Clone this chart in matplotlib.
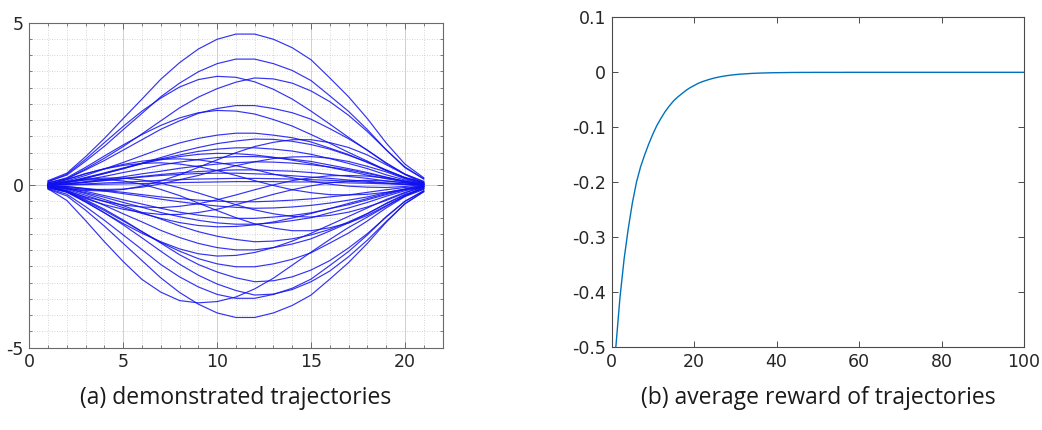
import matplotlib
matplotlib.use("Agg")
import matplotlib.pyplot as plt
from matplotlib.ticker import MultipleLocator

# ---- panel (a): demonstrated trajectories, one value per time step ----
steps = list(range(1, 22))

trajectories_up = [
    [0.14, 0.37, 0.88, 1.44, 2.05, 2.65, 3.26, 3.77, 4.19, 4.49, 4.65, 4.65, 4.49, 4.23, 3.86, 3.30, 2.72, 2.05, 1.30, 0.65, 0.23],
    [0.12, 0.31, 0.74, 1.20, 1.71, 2.21, 2.72, 3.14, 3.49, 3.74, 3.88, 3.88, 3.74, 3.53, 3.22, 2.75, 2.27, 1.71, 1.09, 0.54, 0.19],
    [0.10, 0.34, 0.80, 1.31, 1.81, 2.28, 2.68, 3.02, 3.25, 3.35, 3.32, 3.18, 2.95, 2.65, 2.28, 1.88, 1.47, 1.07, 0.67, 0.34, 0.10],
    [0.07, 0.20, 0.50, 0.83, 1.19, 1.58, 1.98, 2.38, 2.71, 2.97, 3.17, 3.30, 3.27, 3.14, 2.90, 2.57, 2.15, 1.65, 1.09, 0.56, 0.20],
    [0.07, 0.20, 0.47, 0.76, 1.08, 1.40, 1.72, 1.98, 2.21, 2.36, 2.45, 2.45, 2.36, 2.23, 2.03, 1.74, 1.43, 1.08, 0.69, 0.34, 0.12],
    [0.07, 0.23, 0.55, 0.90, 1.24, 1.56, 1.84, 2.07, 2.23, 2.30, 2.28, 2.19, 2.02, 1.82, 1.56, 1.29, 1.01, 0.74, 0.46, 0.23, 0.07],
    [0.05, 0.13, 0.30, 0.50, 0.70, 0.91, 1.12, 1.30, 1.44, 1.54, 1.60, 1.60, 1.54, 1.46, 1.33, 1.14, 0.94, 0.70, 0.45, 0.22, 0.08],
    [0.03, 0.09, 0.21, 0.36, 0.51, 0.68, 0.85, 1.02, 1.16, 1.28, 1.36, 1.42, 1.41, 1.35, 1.25, 1.11, 0.92, 0.71, 0.47, 0.24, 0.09],
    [0.03, 0.09, 0.22, 0.36, 0.51, 0.66, 0.81, 0.93, 1.04, 1.11, 1.15, 1.15, 1.11, 1.05, 0.95, 0.82, 0.67, 0.51, 0.32, 0.16, 0.06],
    [0.03, 0.10, 0.24, 0.38, 0.53, 0.67, 0.78, 0.88, 0.95, 0.98, 0.97, 0.93, 0.86, 0.77, 0.67, 0.55, 0.43, 0.31, 0.20, 0.10, 0.03],
    [0.03, 0.07, 0.17, 0.27, 0.39, 0.50, 0.62, 0.71, 0.79, 0.85, 0.88, 0.88, 0.85, 0.80, 0.73, 0.62, 0.51, 0.39, 0.25, 0.12, 0.04],
    [0.01, 0.04, 0.11, 0.18, 0.26, 0.35, 0.43, 0.52, 0.59, 0.65, 0.69, 0.72, 0.71, 0.68, 0.63, 0.56, 0.47, 0.36, 0.24, 0.12, 0.04],
    [0.01, 0.04, 0.09, 0.15, 0.21, 0.27, 0.33, 0.38, 0.42, 0.45, 0.47, 0.47, 0.45, 0.43, 0.39, 0.33, 0.27, 0.21, 0.13, 0.07, 0.02],
    [0.01, 0.04, 0.09, 0.14, 0.20, 0.25, 0.30, 0.33, 0.36, 0.37, 0.37, 0.35, 0.33, 0.29, 0.25, 0.21, 0.16, 0.12, 0.07, 0.04, 0.01],
    [0.01, 0.02, 0.04, 0.07, 0.09, 0.12, 0.15, 0.17, 0.19, 0.20, 0.21, 0.21, 0.20, 0.19, 0.17, 0.15, 0.12, 0.09, 0.06, 0.03, 0.01],
    [0.00, 0.01, 0.02, 0.03, 0.04, 0.05, 0.07, 0.08, 0.09, 0.10, 0.11, 0.11, 0.11, 0.10, 0.10, 0.09, 0.07, 0.06, 0.04, 0.02, 0.01],
]

trajectories_down = [
    [-0.02, -0.04, -0.10, -0.16, -0.22, -0.29, -0.36, -0.41, -0.46, -0.49, -0.51, -0.51, -0.49, -0.46, -0.42, -0.36, -0.30, -0.22, -0.14, -0.07, -0.03],
    [-0.01, -0.04, -0.11, -0.18, -0.26, -0.34, -0.43, -0.51, -0.58, -0.64, -0.68, -0.71, -0.70, -0.67, -0.62, -0.55, -0.46, -0.36, -0.23, -0.12, -0.04],
    [-0.03, -0.08, -0.19, -0.32, -0.45, -0.58, -0.71, -0.83, -0.92, -0.98, -1.02, -1.02, -0.98, -0.93, -0.85, -0.72, -0.60, -0.45, -0.29, -0.14, -0.05],
    [-0.04, -0.10, -0.23, -0.37, -0.53, -0.68, -0.84, -0.97, -1.08, -1.16, -1.20, -1.20, -1.16, -1.09, -1.00, -0.85, -0.70, -0.53, -0.34, -0.17, -0.06],
    [-0.04, -0.13, -0.31, -0.50, -0.69, -0.87, -1.02, -1.15, -1.24, -1.28, -1.27, -1.22, -1.13, -1.01, -0.87, -0.72, -0.56, -0.41, -0.26, -0.13, -0.04],
    [-0.03, -0.10, -0.26, -0.44, -0.63, -0.84, -1.04, -1.25, -1.43, -1.57, -1.67, -1.74, -1.72, -1.65, -1.53, -1.36, -1.13, -0.87, -0.57, -0.30, -0.10],
    [-0.06, -0.16, -0.38, -0.62, -0.88, -1.13, -1.39, -1.61, -1.79, -1.92, -1.99, -1.99, -1.92, -1.81, -1.65, -1.41, -1.16, -0.88, -0.56, -0.28, -0.10],
    [-0.07, -0.22, -0.52, -0.85, -1.18, -1.48, -1.74, -1.96, -2.11, -2.18, -2.16, -2.07, -1.92, -1.72, -1.48, -1.22, -0.96, -0.70, -0.44, -0.22, -0.07],
    [-0.08, -0.20, -0.48, -0.78, -1.10, -1.43, -1.76, -2.03, -2.26, -2.42, -2.51, -2.51, -2.42, -2.28, -2.08, -1.78, -1.47, -1.10, -0.70, -0.35, -0.13],
    [-0.06, -0.18, -0.45, -0.74, -1.07, -1.43, -1.78, -2.14, -2.44, -2.67, -2.85, -2.97, -2.94, -2.82, -2.61, -2.32, -1.93, -1.49, -0.98, -0.50, -0.18],
    [-0.07, -0.20, -0.51, -0.85, -1.22, -1.62, -2.03, -2.43, -2.77, -3.04, -3.24, -3.38, -3.35, -3.21, -2.97, -2.64, -2.20, -1.69, -1.12, -0.57, -0.20],
    [-0.10, -0.28, -0.66, -1.08, -1.53, -1.98, -2.44, -2.82, -3.13, -3.36, -3.48, -3.48, -3.36, -3.17, -2.89, -2.47, -2.04, -1.53, -0.97, -0.49, -0.17],
    [-0.11, -0.47, -1.09, -1.74, -2.35, -2.90, -3.29, -3.55, -3.62, -3.58, -3.44, -3.19, -2.86, -2.46, -2.06, -1.67, -1.30, -0.98, -0.65, -0.33, -0.11],
    [-0.12, -0.33, -0.77, -1.26, -1.79, -2.32, -2.85, -3.30, -3.66, -3.93, -4.07, -4.07, -3.93, -3.70, -3.38, -2.89, -2.38, -1.79, -1.14, -0.57, -0.20],
]

trajectories_cross = [
    [0.01, 0.18, 0.36, 0.50, 0.61, 0.67, 0.69, 0.65, 0.57, 0.45, 0.30, 0.14, -0.01, -0.14, -0.23, -0.29, -0.30, -0.28, -0.22, -0.12, 0.02],
    [-0.01, -0.18, -0.36, -0.50, -0.61, -0.67, -0.69, -0.65, -0.57, -0.45, -0.30, -0.14, 0.01, 0.14, 0.23, 0.29, 0.30, 0.28, 0.22, 0.12, -0.02],
    [-0.02, 0.11, 0.19, 0.22, 0.22, 0.16, 0.06, -0.08, -0.24, -0.42, -0.60, -0.76, -0.88, -0.96, -0.98, -0.93, -0.83, -0.67, -0.47, -0.24, -0.03],
    [-0.02, -0.21, -0.41, -0.60, -0.74, -0.84, -0.90, -0.90, -0.84, -0.74, -0.60, -0.44, -0.28, -0.14, -0.02, 0.07, 0.13, 0.15, 0.13, 0.08, -0.03],
    [0.02, 0.17, 0.35, 0.51, 0.64, 0.74, 0.80, 0.81, 0.78, 0.70, 0.60, 0.48, 0.34, 0.23, 0.12, 0.03, -0.03, -0.06, -0.07, -0.04, 0.03],
    [0.02, -0.07, -0.13, -0.13, -0.12, -0.06, 0.04, 0.17, 0.30, 0.46, 0.60, 0.72, 0.82, 0.87, 0.88, 0.83, 0.73, 0.58, 0.41, 0.20, 0.03],
    [-0.03, 0.11, 0.16, 0.18, 0.13, 0.03, -0.13, -0.32, -0.55, -0.78, -1.00, -1.19, -1.32, -1.40, -1.40, -1.31, -1.16, -0.93, -0.63, -0.33, -0.05],
    [0.03, -0.11, -0.16, -0.18, -0.13, -0.03, 0.13, 0.32, 0.55, 0.78, 1.00, 1.19, 1.32, 1.40, 1.40, 1.31, 1.16, 0.93, 0.63, 0.33, 0.05],
]

traj_xticks = [0, 5, 10, 15, 20]
traj_yticks = [-5, 0, 5]

# ---- panel (b): average reward per iteration ----
iterations = list(range(1, 101))
avg_reward = [
    -0.500, -0.410, -0.340, -0.285, -0.238, -0.200, -0.172, -0.150, -0.130, -0.112,
    -0.096, -0.083, -0.071, -0.061, -0.052, -0.045, -0.039, -0.033, -0.028, -0.024,
    -0.020, -0.017, -0.0145, -0.0122, -0.0102, -0.0086, -0.0072, -0.0060, -0.0050, -0.0042,
    -0.0035, -0.0030, -0.0025, -0.0020, -0.0017, -0.0014, -0.0012, -0.0010, -0.0008, -0.0007,
    -0.0006, -0.0005, -0.0004, -0.0003, -0.0003, -0.0002, -0.0002, -0.0002, -0.0001, -0.0001,
    -0.0001, -0.0001, -0.0001, -0.0001, -0.0001, -0.0001, 0.0, 0.0, 0.0, 0.0,
    0.0, 0.0, 0.0, 0.0, 0.0, 0.0, 0.0, 0.0, 0.0, 0.0,
    0.0, 0.0, 0.0, 0.0, 0.0, 0.0, 0.0, 0.0, 0.0, 0.0,
    0.0, 0.0, 0.0, 0.0, 0.0, 0.0, 0.0, 0.0, 0.0, 0.0,
    0.0, 0.0, 0.0, 0.0, 0.0, 0.0, 0.0, 0.0, 0.0, 0.0,
]
reward_xticks = [0, 20, 40, 60, 80, 100]
reward_yticks = [-0.5, -0.4, -0.3, -0.2, -0.1, 0, 0.1]

captions = ["(a) demonstrated trajectories", "(b) average reward of trajectories"]

# ---- figure ----
W, H = 1042, 430
fig = plt.figure(figsize=(W / 100, H / 100), dpi=100)

tick_family = "DejaVu Sans"
tick_size = 12.5
label_gray = "#262626"


def box_axes(ax, spine_color):
    for s in ax.spines.values():
        s.set_color(spine_color)
        s.set_linewidth(0.8)
    ax.tick_params(which="both", direction="in", top=True, right=True,
                   colors=spine_color, labelcolor=label_gray)
    ax.tick_params(which="major", length=4.5, width=0.7, pad=4)
    ax.tick_params(which="minor", length=2.5, width=0.6)
    for lab in ax.get_xticklabels() + ax.get_yticklabels():
        lab.set_fontfamily(tick_family)
        lab.set_fontsize(tick_size)


# left panel
ax1 = fig.add_axes([29.3 / W, 1 - 347.7 / H, (442.5 - 29.3) / W, (347.7 - 22.7) / H])
for traj in trajectories_up + trajectories_down + trajectories_cross:
    ax1.plot(steps, traj, color="#1010ee", lw=0.85, alpha=0.85)
ax1.set_xlim(0, 22)
ax1.set_ylim(-5, 5)
ax1.set_xticks(traj_xticks)
ax1.set_yticks(traj_yticks)
ax1.set_yticklabels([str(v) for v in traj_yticks])
ax1.xaxis.set_minor_locator(MultipleLocator(1))
ax1.yaxis.set_minor_locator(MultipleLocator(0.5))
ax1.grid(which="major", color="#d0d0d0", lw=0.7, ls="-")
ax1.grid(which="minor", color="#c8c8c8", lw=0.6, ls=(0, (1, 2)))
ax1.set_axisbelow(True)
box_axes(ax1, "#6a6a6a")

# right panel
ax2 = fig.add_axes([611.7 / W, 1 - 347.3 / H, (1024 - 611.7) / W, (347.3 - 17.3) / H])
ax2.plot(iterations, avg_reward, color="#0072BD", lw=1.0)
ax2.set_xlim(0, 100)
ax2.set_ylim(-0.5, 0.1)
ax2.set_xticks(reward_xticks)
ax2.set_yticks(reward_yticks)
ax2.set_yticklabels([f"{v:g}" for v in reward_yticks])
box_axes(ax2, "#4a4a4a")

# captions under each panel
for ax, text in zip((ax1, ax2), captions):
    pos = ax.get_position()
    fig.text((pos.x0 + pos.x1) / 2, 1 - 398 / H, text, ha="center", va="center",
             fontsize=16.5, family=["Open Sans", "DejaVu Sans"], color="#1a1a1a")

fig.savefig("out.png", dpi=100)
